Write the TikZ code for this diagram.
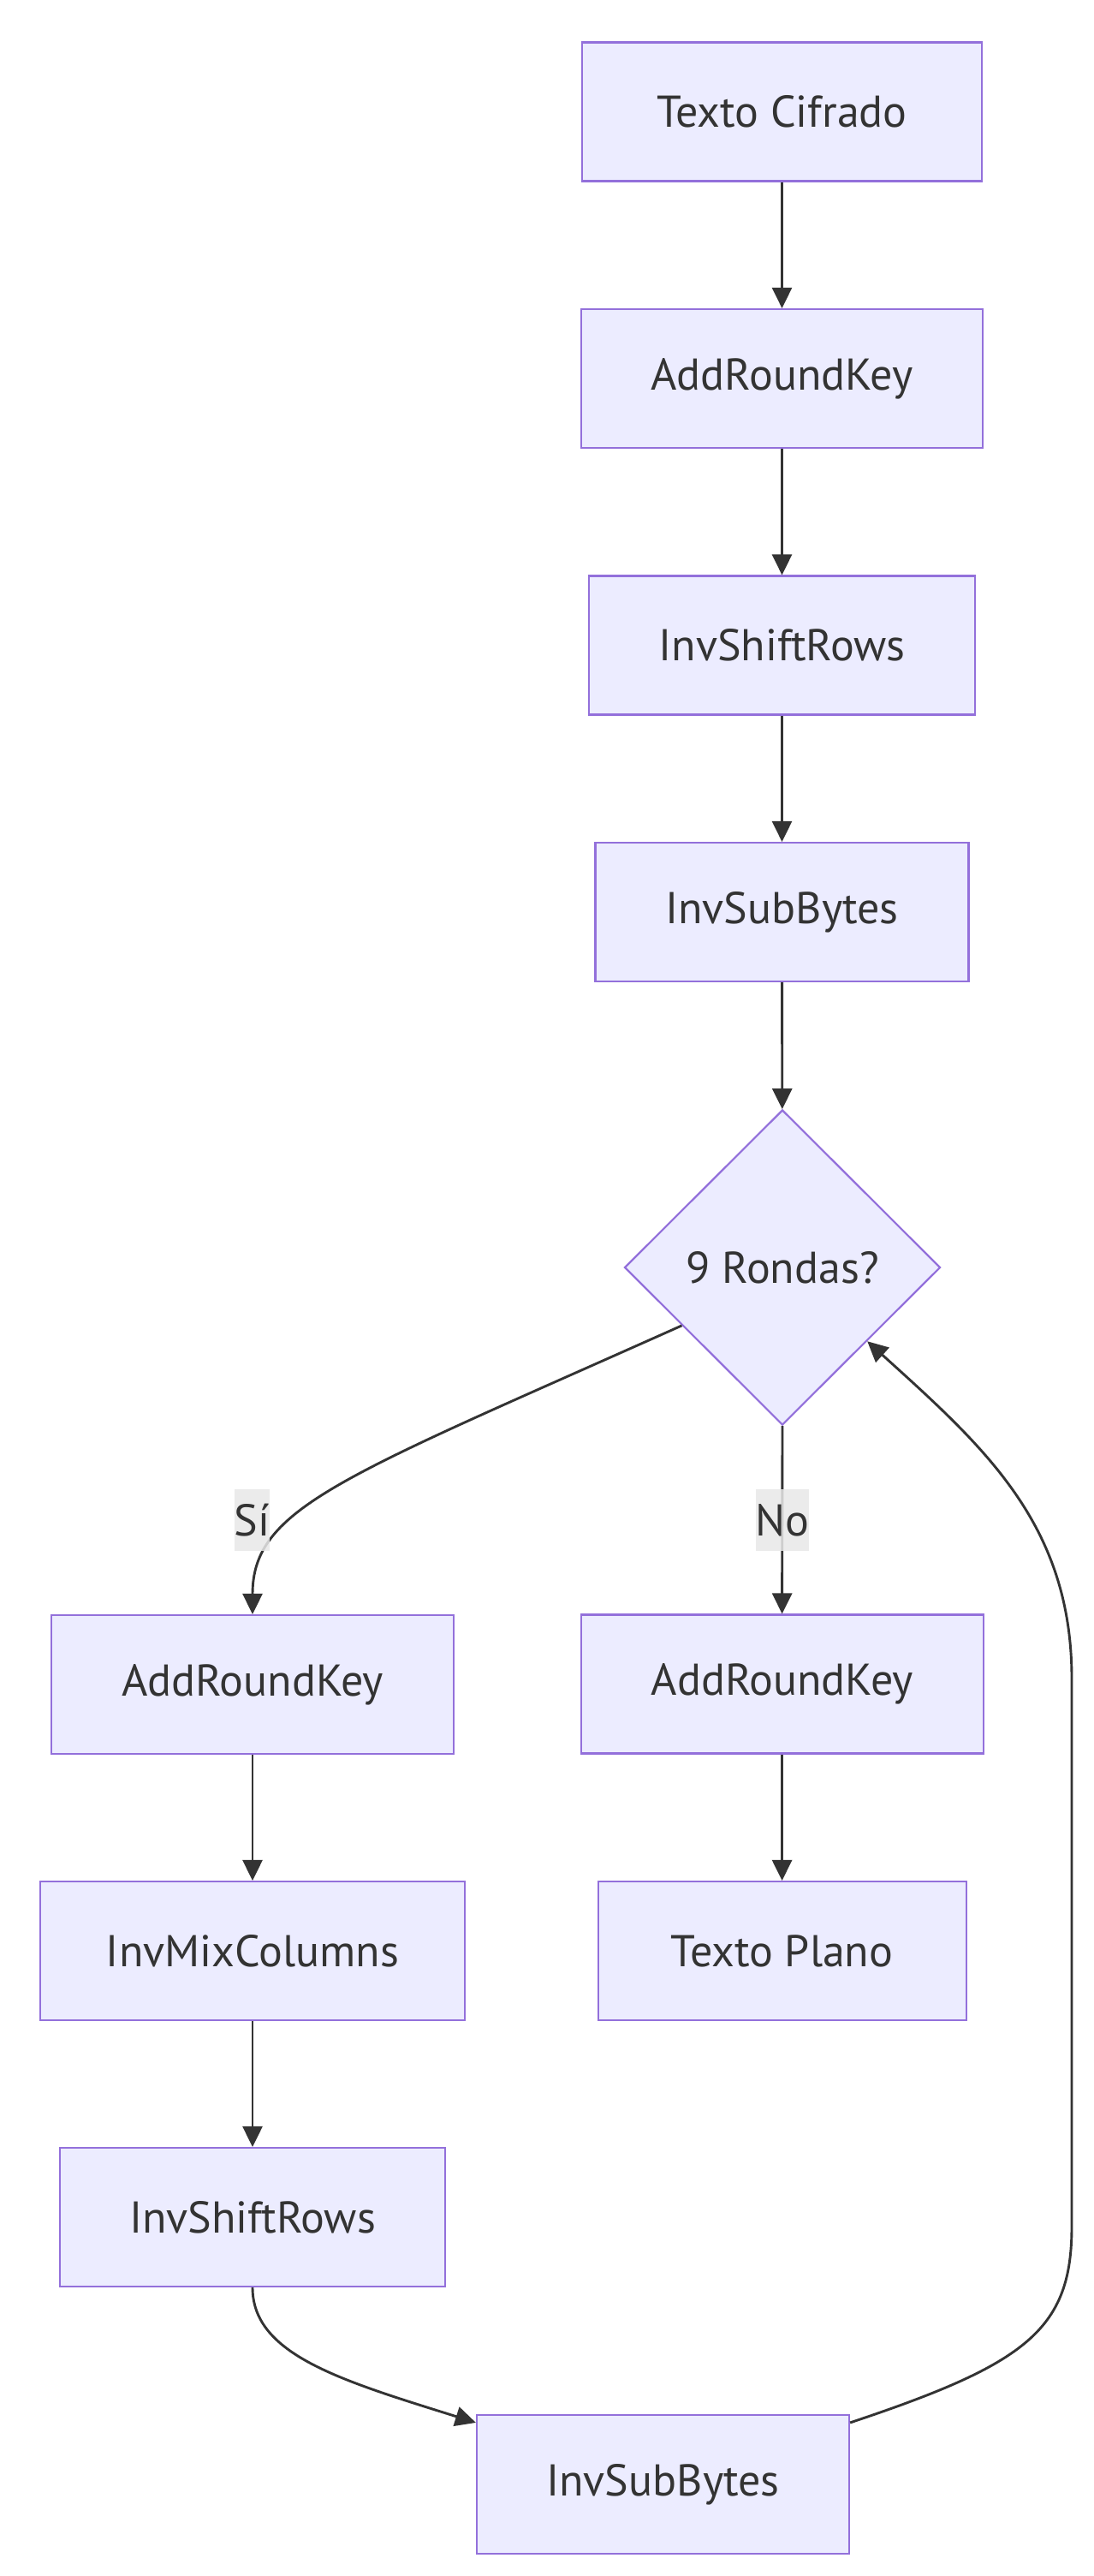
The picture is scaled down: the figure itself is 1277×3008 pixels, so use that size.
\documentclass[tikz,border=0pt]{standalone}
\usepackage{fontspec}
\setmainfont{PT Sans}
\usetikzlibrary{arrows.meta,shapes.geometric}
\definecolor{nodefill}{HTML}{ECECFF}
\definecolor{nodeline}{HTML}{9370DB}
\definecolor{edgecol}{HTML}{333333}
\definecolor{lblbg}{HTML}{E8E8E8}
\begin{document}
\begin{tikzpicture}[x=1pt,y=-1pt,
  box/.style={draw=nodeline, fill=nodefill, line width=2.2pt, minimum height=162pt,
    inner sep=0pt, text=edgecol, font=\fontsize{52}{60}\selectfont},
  decision/.style={diamond, draw=nodeline, fill=nodefill, line width=2.2pt,
    minimum width=369pt, minimum height=368pt, inner sep=0pt, text=edgecol,
    font=\fontsize{52}{60}\selectfont},
  flow/.style={draw=edgecol, line width=2.9pt, -{Triangle[length=24pt,width=23pt]}},
  lbl/.style={fill=lblbg, fill opacity=0.85, text opacity=1, inner xsep=0pt,
    inner ysep=0pt, minimum height=72pt, text=edgecol, font=\fontsize{52}{60}\selectfont}]
\fill[white] (0,0) rectangle (1277,3008);
\useasboundingbox (0,0) rectangle (1277,3008);

\node[box, minimum width=467pt] (tc)   at (913.5,130.5) {Texto Cifrado};
\node[box, minimum width=469pt] (ark1) at (913.5,442) {AddRoundKey};
\node[box, minimum width=451pt] (isr1) at (913.5,753.5) {InvShiftRows};
\node[box, minimum width=436pt] (isb1) at (913.5,1065) {InvSubBytes};
\node[decision] (dec) at (914,1480) {9 Rondas?};
\node[box, minimum width=470pt] (arkL) at (295,1967) {AddRoundKey};
\node[box, minimum width=470pt] (arkR) at (913.6,1966.5) {AddRoundKey};
\node[box, minimum width=496pt] (imc)  at (295,2278) {InvMixColumns};
\node[box, minimum width=430pt] (tp)   at (913.6,2278) {Texto Plano};
\node[box, minimum width=450pt] (isr2) at (295,2589) {InvShiftRows};
\node[box, minimum width=435pt] (isb2) at (774.5,2901) {InvSubBytes};

\draw[flow] (tc) -- (ark1);
\draw[flow] (ark1) -- (isr1);
\draw[flow] (isr1) -- (isb1);
\draw[flow] (isb1) -- (dec);
\draw[flow] (dec.210) .. controls (400,1725) and (295,1760) .. (arkL.north);
\draw[flow] (dec.south) -- (arkR.north);
\draw[flow] (arkL) -- (imc);
\draw[flow] (imc) -- (isr2);
\draw[flow] (arkR) -- (tp);
\draw[flow] (isr2.south) .. controls (295,2750) and (400,2780) .. ([yshift=-10pt]isb2.north west);
\draw[flow] ([yshift=-10pt]isb2.north east) .. controls (1200,2760) and (1252,2720) .. (1252,2600)
  -- (1252,1960) .. controls (1252,1780) and (1150,1690) .. (dec.-41);

\node[lbl] (lsi) at (294.6,1775) {Sí};
\node[lbl] (lno) at (914,1775) {No};
\end{tikzpicture}
\end{document}
